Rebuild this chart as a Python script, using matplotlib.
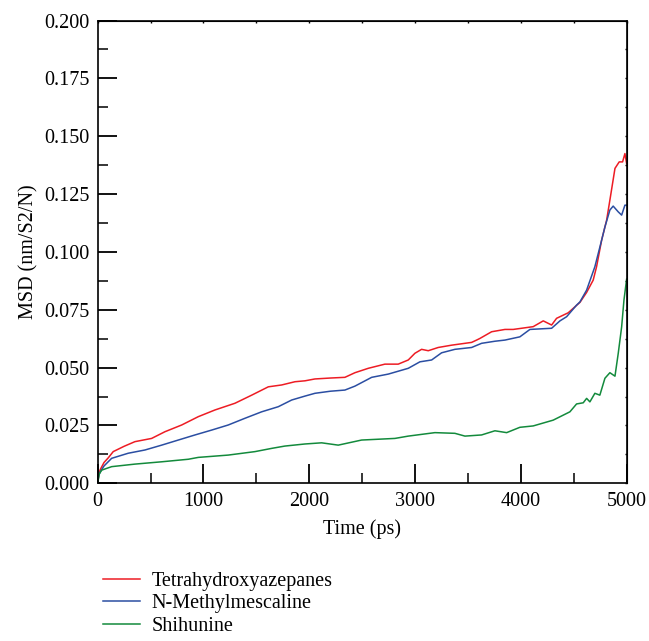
import matplotlib
matplotlib.use("Agg")
import matplotlib.pyplot as plt
from matplotlib.ticker import MultipleLocator

plt.rcParams['font.family'] = ['Liberation Serif', 'DejaVu Serif']

# values (time in ps, MSD)
t_red = [0, 10, 25, 60, 100, 147, 250, 352, 510, 636, 794, 951, 1109, 1298, 1456,
         1613, 1739, 1865, 1960, 2054, 2200, 2337, 2432, 2558, 2715, 2841, 2936,
         2999, 3062, 3125, 3219, 3346, 3535, 3582, 3613, 3724, 3850, 3928, 4117,
         4212, 4291, 4338, 4448, 4559, 4622, 4684, 4716, 4764, 4811, 4842, 4890,
         4930, 4962, 4984, 5000]
msd_red = [0, 0.004, 0.006, 0.009, 0.011, 0.0137, 0.0160, 0.0180, 0.0194, 0.0223,
           0.0252, 0.0288, 0.0317, 0.0346, 0.0381, 0.0417, 0.0425, 0.0439, 0.0443,
           0.0451, 0.0455, 0.0458, 0.0478, 0.0497, 0.0515, 0.0515, 0.0533, 0.0562,
           0.0579, 0.0573, 0.0587, 0.0597, 0.0609, 0.0619, 0.0626, 0.0655, 0.0665,
           0.0665, 0.0677, 0.0702, 0.0684, 0.0713, 0.0737, 0.0782, 0.0825, 0.0878,
           0.0936, 0.1051, 0.1137, 0.1224, 0.1361, 0.1389, 0.1389, 0.1425, 0.1382]

t_blue = [0, 10, 25, 60, 132, 289, 447, 605, 762, 920, 1077, 1234, 1392, 1550,
          1707, 1834, 1960, 2054, 2200, 2337, 2432, 2590, 2747, 2936, 3046, 3157,
          3251, 3377, 3535, 3629, 3755, 3850, 3991, 4086, 4291, 4370, 4433, 4527,
          4559, 4622, 4700, 4764, 4795, 4842, 4873, 4921, 4953, 4984, 5000]
msd_blue = [0, 0.0035, 0.005, 0.0075, 0.0108, 0.0130, 0.0144, 0.0165, 0.0187,
            0.0209, 0.0230, 0.0252, 0.0281, 0.0309, 0.0331, 0.0360, 0.0377, 0.0389,
            0.0398, 0.0403, 0.0420, 0.0458, 0.0472, 0.0497, 0.0525, 0.0533, 0.0564,
            0.0579, 0.0587, 0.0605, 0.0614, 0.0619, 0.0633, 0.0665, 0.0670, 0.0702,
            0.0720, 0.0770, 0.0784, 0.0835, 0.0936, 0.1051, 0.1108, 0.1181, 0.1198,
            0.1173, 0.1159, 0.1202, 0.1202]

t_green = [0, 15, 38, 132, 352, 605, 857, 951, 1234, 1487, 1645, 1770, 1960, 2117,
           2274, 2495, 2810, 2936, 3188, 3377, 3472, 3629, 3755, 3866, 3991, 4117,
           4306, 4464, 4527, 4590, 4622, 4653, 4700, 4747, 4795, 4842, 4890, 4921,
           4953, 4975, 5000]
msd_green = [0, 0.004, 0.0057, 0.0072, 0.0083, 0.0093, 0.0104, 0.0112, 0.0122,
             0.0137, 0.0151, 0.0161, 0.0170, 0.0175, 0.0165, 0.0187, 0.0194, 0.0204,
             0.0219, 0.0216, 0.0204, 0.0209, 0.0227, 0.0219, 0.0242, 0.0248, 0.0273,
             0.0309, 0.0343, 0.0348, 0.0367, 0.0352, 0.0389, 0.0381, 0.0454, 0.0478,
             0.0463, 0.0562, 0.0676, 0.0792, 0.0882]

labels = ["Tetrahydroxyazepanes", "N-Methylmescaline", "Shihunine"]
colors = ["#ed1c24", "#2b4ea2", "#138a3c"]

fig = plt.figure(figsize=(6.49, 6.41), dpi=100)
ax = fig.add_axes([0.1505, 0.246, 0.815, 0.722])

lines = []
for t, v, c, lab in zip([t_red, t_blue, t_green], [msd_red, msd_blue, msd_green], colors, labels):
    ln, = ax.plot(t, v, color=c, lw=1.1, label=lab)
    lines.append(ln)

ax.set_xlim(0, 5000)
ax.set_ylim(0, 0.2)
ax.xaxis.set_major_locator(MultipleLocator(1000))
ax.xaxis.set_minor_locator(MultipleLocator(500))
ax.yaxis.set_major_locator(MultipleLocator(0.025))
ax.yaxis.set_minor_locator(MultipleLocator(0.0125))
ax.yaxis.set_major_formatter(plt.FormatStrFormatter('%.3f'))
ax.tick_params(which='major', direction='in', length=14, width=1.3, labelsize=14.5, pad=6)
ax.tick_params(which='minor', direction='in', length=7, width=1.1)
for s in ax.spines.values():
    s.set_linewidth(1.2)

# small ticks on top and right spines
top = ax.secondary_xaxis('top')
top.xaxis.set_major_locator(MultipleLocator(500))
top.tick_params(direction='in', length=1.5, width=1, labeltop=False)
right = ax.secondary_yaxis('right')
right.yaxis.set_major_locator(MultipleLocator(0.0125))
right.tick_params(direction='in', length=1.5, width=1, labelright=False)

ax.set_xlabel("Time (ps)", fontsize=14.5, labelpad=6)
ax.set_ylabel("MSD (nm/S2/N)", fontsize=14.5, labelpad=4)

fig.legend(handles=lines, loc='upper left', bbox_to_anchor=(0.158, 0.108),
           frameon=False, fontsize=14.5, handlelength=1.85, handletextpad=0.6,
           labelspacing=0.17, borderpad=0, borderaxespad=0)

fig.savefig("out.png", dpi=100)
